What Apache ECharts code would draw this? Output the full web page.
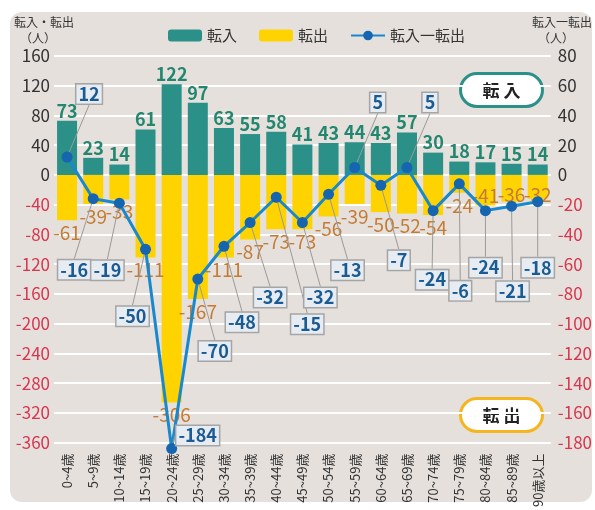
<!DOCTYPE html>
<html lang="ja">
<head>
    <meta charset="UTF-8">
    <title>転入・転出</title>
    <script src="https://cdn.jsdelivr.net/npm/echarts@6/dist/echarts.min.js"></script>
    <style>
        body { margin: 0; background: #fff; }
        #main { width: 595px; height: 510px; }
    </style>
</head>
<body>
<div id="main"></div>
<script type="text/javascript">
    // 年齢階級
    var categories = ['0~4歳', '5~9歳', '10~14歳', '15~19歳', '20~24歳', '25~29歳', '30~34歳',
        '35~39歳', '40~44歳', '45~49歳', '50~54歳', '55~59歳', '60~64歳', '65~69歳',
        '70~74歳', '75~79歳', '80~84歳', '85~89歳', '90歳以上'];
    var inflow = [73, 23, 14, 61, 122, 97, 63, 55, 58, 41, 43, 44, 43, 57, 30, 18, 17, 15, 14];
    var outflow = [-61, -39, -33, -111, -306, -167, -111, -87, -73, -73, -56, -39, -50, -52, -54, -24, -41, -36, -32];
    var net = [12, -16, -19, -50, -184, -70, -48, -32, -15, -32, -13, 5, -7, 5, -24, -6, -24, -21, -18];

    // ラベル位置の調整 (px)
    var netLabelOffsets = [[22, -63], [-19, 71], [-12, 67], [-13, 67], [26, -13], [17, 72], [18, 76],
        [20, 75], [31, 127], [18, 75], [19, 76], [23, -65], [18, 75], [23, -65], [-1, 69],
        [1, 107], [0, 57], [1, 85], [0, 66]];
    var outLabelShift = {16: -22, 17: -19, 18: -16};

    var numFont = "'Liberation Sans Narrow', 'Noto Sans CJK JP', sans-serif";
    var jpFont = "'Noto Sans CJK JP', sans-serif";

    var myChart = echarts.init(document.getElementById('main'));

    function axisColor(value) {
        return Number(value) < 0 ? '#d8364f' : '#333';
    }

    var option = {
        animation: false,
        backgroundColor: '#fff',
        textStyle: {fontFamily: jpFont},
        graphic: [
            {
                type: 'rect', z: -100, silent: true,
                shape: {x: 10, y: 12, width: 582, height: 490, r: 12},
                style: {fill: '#e5e0dc'}
            },
            {
                type: 'text', left: 14, top: 14,
                style: {text: '転入・転出\n　（人）', fill: '#333', font: "12px 'Noto Sans CJK JP'", lineHeight: 16}
            },
            {
                type: 'text', left: 532, top: 14,
                style: {text: '転入一転出\n　（人）', fill: '#333', font: "12px 'Noto Sans CJK JP'", lineHeight: 16}
            },
            {
                type: 'group', left: 459, top: 72,
                children: [
                    {type: 'rect', shape: {x: 0, y: 0, width: 82, height: 33, r: 16.5},
                        style: {fill: '#fff', stroke: '#2a9088', lineWidth: 3}},
                    {type: 'text', x: 41, y: 17,
                        style: {text: '転 入', fill: '#222', font: "bold 17px 'Noto Sans CJK JP'", align: 'center', verticalAlign: 'middle'}}
                ]
            },
            {
                type: 'group', left: 459, top: 397,
                children: [
                    {type: 'rect', shape: {x: 0, y: 0, width: 82, height: 33, r: 16.5},
                        style: {fill: '#fff', stroke: '#f5b521', lineWidth: 3}},
                    {type: 'text', x: 41, y: 17,
                        style: {text: '転 出', fill: '#222', font: "bold 17px 'Noto Sans CJK JP'", align: 'center', verticalAlign: 'middle'}}
                ]
            }
        ],
        legend: {
            top: 23,
            left: 163,
            itemWidth: 34,
            itemHeight: 12,
            itemGap: 22,
            textStyle: {fontSize: 15, color: '#333', fontFamily: jpFont},
            data: ['転入', '転出', '転入一転出']
        },
        grid: {left: 54, right: 42, top: 56, bottom: 67},
        xAxis: {
            type: 'category',
            data: categories,
            axisLine: {show: false},
            axisTick: {show: false},
            axisLabel: {
                rotate: 90, margin: 11, fontSize: 13, color: '#333', fontFamily: numFont, interval: 0
            }
        },
        yAxis: [
            {
                type: 'value', min: -360, max: 160, interval: 40,
                axisLine: {show: false},
                axisTick: {show: false},
                splitLine: {lineStyle: {color: '#fff', width: 2}},
                axisLabel: {fontSize: 17, margin: 4, fontFamily: numFont, color: axisColor}
            },
            {
                type: 'value', min: -180, max: 80, interval: 20,
                axisLine: {show: false},
                axisTick: {show: false},
                splitLine: {show: false},
                axisLabel: {fontSize: 17, margin: 7, fontFamily: numFont, color: axisColor}
            }
        ],
        series: [
            {
                name: '転入',
                type: 'bar',
                stack: 'flow',
                barWidth: 20,
                itemStyle: {color: '#2a9088'},
                label: {
                    show: true, position: 'top', distance: 1,
                    fontSize: 18, fontWeight: 'bold', color: '#23876f', fontFamily: numFont
                },
                data: inflow
            },
            {
                name: '転出',
                type: 'bar',
                stack: 'flow',
                barWidth: 20,
                itemStyle: {color: '#ffd300'},
                label: {
                    show: true, position: 'bottom', distance: 3,
                    fontSize: 19, color: '#c47b34', fontFamily: numFont
                },
                labelLayout: function (params) {
                    var s = outLabelShift[params.dataIndex];
                    return s ? {dy: s} : {};
                },
                data: outflow
            },
            {
                name: '転入一転出',
                type: 'line',
                yAxisIndex: 1,
                z: 5,
                clip: false,
                symbol: 'circle',
                symbolSize: 11,
                lineStyle: {color: '#1a88cc', width: 3},
                itemStyle: {color: '#1565b0'},
                label: {
                    show: true, position: 'inside',
                    fontSize: 18, fontWeight: 'bold', color: '#1a5b94', fontFamily: numFont,
                    lineHeight: 18,
                    backgroundColor: '#e6ecf1',
                    borderColor: '#a5a5a5', borderWidth: 1.5,
                    padding: [1, 2, 0, 2]
                },
                labelLine: {show: true, showAbove: false, lineStyle: {color: '#9a9a9a', width: 1}},
                labelLayout: function (params) {
                    var o = netLabelOffsets[params.dataIndex];
                    return {dx: o[0], dy: o[1]};
                },
                data: net
            }
        ]
    };

    myChart.setOption(option);
</script>
</body>
</html>
